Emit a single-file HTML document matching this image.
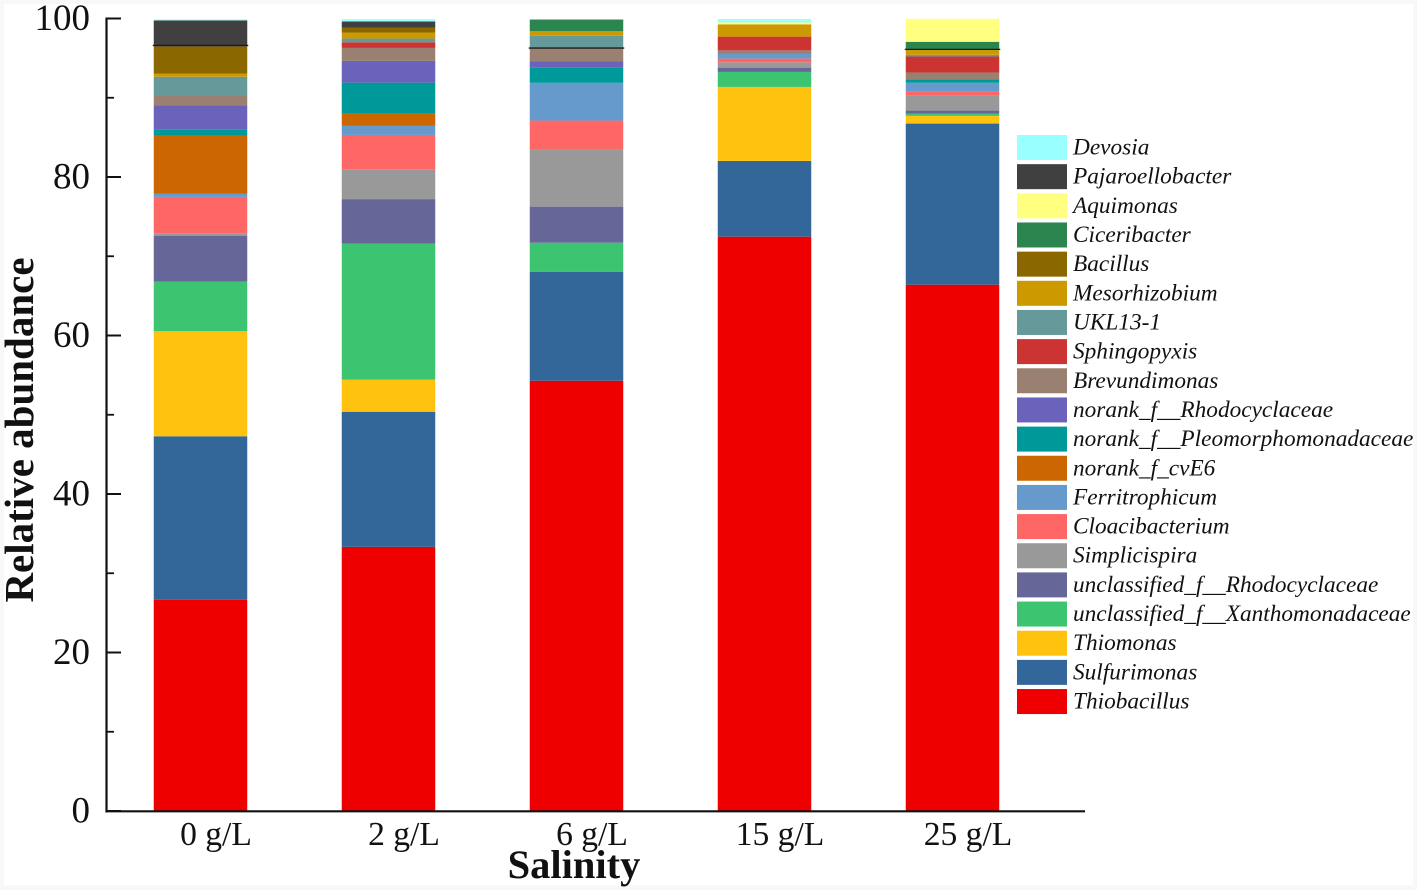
<!DOCTYPE html>
<html lang="en">
<head>
<meta charset="utf-8">
<title>Relative abundance by salinity</title>
<style>
html,body{margin:0;padding:0;width:1417px;height:890px;overflow:hidden;background:#f8f8f8;}
svg{display:block;}
text{font-family:"Liberation Serif",serif;fill:#111;}
</style>
</head>
<body>
<svg id="chart" width="1417" height="890" viewBox="0 0 1417 890" xmlns="http://www.w3.org/2000/svg">
<rect x="4" y="4" width="1409" height="881" fill="#fff"/>
<g id="bars"></g>
<g id="markers"></g>
<g id="axes"></g>
<g id="legend"></g>
<text x="574" y="878" text-anchor="middle" font-size="40.5" font-weight="bold">Salinity</text>
<text transform="translate(33,430) rotate(-90)" text-anchor="middle" font-size="41" font-weight="bold">Relative abundance</text>
</svg>
<script>
const categories = ["0 g/L", "2 g/L", "6 g/L", "15 g/L", "25 g/L"];
const yTickLabels = [0, 20, 40, 60, 80, 100];
const yMinorTicks = [10, 30, 50, 70, 90];

const thiobacillus = [26.64, 33.33, 54.29, 72.47, 66.41];
const sulfurimonas = [20.64, 17.05, 13.76, 9.56, 20.33];
const thiomonas = [13.26, 4.04, 0, 9.34, 0.97];
const unclassifiedXanthomonadaceae = [6.25, 17.17, 3.66, 1.89, 0.29];
const unclassifiedRhodocyclaceae = [5.81, 5.62, 4.55, 0.54, 0.38];
const simplicispira = [0.29, 3.76, 7.2, 0.67, 1.86];
const cloacibacterium = [4.6, 4.34, 3.66, 0.47, 0.51];
const ferritrophicum = [0.38, 1.14, 4.76, 0.59, 1.14];
const norankCvE6 = [7.36, 1.55, 0, 0, 0];
const norankPleomorphomonadaceae = [0.8, 3.91, 1.97, 0, 0.45];
const norankRhodocyclaceae = [3.0, 2.74, 0.72, 0.06, 0];
const brevundimonas = [1.26, 1.64, 1.64, 0.39, 0.85];
const sphingopyxis = [0, 0.71, 0, 1.73, 2.02];
const ukl131 = [2.36, 0.47, 1.6, 0, 0.21];
const mesorhizobium = [0.38, 0.76, 0.58, 1.55, 0.67];
const bacillus = [3.45, 0.63, 0, 0, 0];
const ciceribacter = [0, 0, 1.48, 0, 0.97];
const aquimonas = [0, 0, 0, 0.25, 2.9];
const pajaroellobacter = [3.28, 0.76, 0, 0, 0];
const devosia = [0.13, 0.3, 0, 0.43, 0];
const topMarkerValues = [96.6, null, 96.27, null, 96.1];

const seriesNames = ["Thiobacillus", "Sulfurimonas", "Thiomonas", "unclassified_f__Xanthomonadaceae", "unclassified_f__Rhodocyclaceae", "Simplicispira", "Cloacibacterium", "Ferritrophicum", "norank_f_cvE6", "norank_f__Pleomorphomonadaceae", "norank_f__Rhodocyclaceae", "Brevundimonas", "Sphingopyxis", "UKL13-1", "Mesorhizobium", "Bacillus", "Ciceribacter", "Aquimonas", "Pajaroellobacter", "Devosia"];
const seriesColors = ["#ee0000", "#336699", "#ffc20e", "#3cc470", "#666699", "#999999", "#ff6666", "#6699cc", "#cc6600", "#009999", "#6b63bb", "#998070", "#cc3333", "#669999", "#cc9900", "#8b6700", "#2a854e", "#ffff80", "#404040", "#99ffff"];
const seriesValues = [thiobacillus, sulfurimonas, thiomonas, unclassifiedXanthomonadaceae, unclassifiedRhodocyclaceae, simplicispira, cloacibacterium, ferritrophicum, norankCvE6, norankPleomorphomonadaceae, norankRhodocyclaceae, brevundimonas, sphingopyxis, ukl131, mesorhizobium, bacillus, ciceribacter, aquimonas, pajaroellobacter, devosia];

const NS = "http://www.w3.org/2000/svg";
const yScale = function (v) { return 811 - v * 7.925; };
const xCenter = function (i) { return 200.5 + i * 188; };
const barWidth = 93.5;

function make(tag, parent, attrs, content) {
  const el = document.createElementNS(NS, tag);
  Object.keys(attrs).forEach(function (k) { el.setAttribute(k, attrs[k]); });
  if (content !== undefined) el.textContent = content;
  parent.appendChild(el);
  return el;
}

const barsGroup = document.getElementById("bars");
categories.forEach(function (cat, c) {
  let cumulative = 0;
  seriesValues.forEach(function (vals, s) {
    const v = vals[c];
    if (v > 0) {
      const top = yScale(cumulative + v);
      const bottom = yScale(cumulative);
      const seg = make("rect", barsGroup, {
        x: xCenter(c) - barWidth / 2,
        y: top,
        width: barWidth,
        height: bottom - top,
        fill: seriesColors[s]
      });
      
      
      cumulative += v;
    }
  });
});

const markersGroup = document.getElementById("markers");
topMarkerValues.forEach(function (v, c) {
  if (v !== null) {
    const mark = make("line", markersGroup, {
      x1: xCenter(c) - barWidth / 2 - 1,
      x2: xCenter(c) + barWidth / 2 + 1,
      y1: yScale(v),
      y2: yScale(v),
      stroke: "#1a1a1a",
      "stroke-width": 1.3
    });
    
    
  }
});

const axesGroup = document.getElementById("axes");
const yAxisLine = make("line", axesGroup, { x1: 106.5, x2: 106.5, y1: yScale(100) - 1, y2: yScale(0) + 1.5, stroke: "#111", "stroke-width": 2.2 });


const xAxisLine = make("line", axesGroup, { x1: 105.5, x2: 1085, y1: yScale(0) + 0.3, y2: yScale(0) + 0.3, stroke: "#111", "stroke-width": 2.2 });



yTickLabels.forEach(function (t) {
  const tick = make("line", axesGroup, { x1: 106.5, x2: 121, y1: yScale(t), y2: yScale(t), stroke: "#111", "stroke-width": 2 });
  
  
  const label = make("text", axesGroup, { x: 90, y: yScale(t) + 11.5, "text-anchor": "end", "font-size": 37 }, String(t));
  
  
});
yMinorTicks.forEach(function (t) {
  const tick = make("line", axesGroup, { x1: 106.5, x2: 114, y1: yScale(t), y2: yScale(t), stroke: "#111", "stroke-width": 1.8 });
  
  
});
categories.forEach(function (cat, c) {
  const label = make("text", axesGroup, { x: xCenter(c) + 15.5, y: 845, "text-anchor": "middle", "font-size": 33.6 }, cat);
  
  
});

const legendGroup = document.getElementById("legend");
seriesNames.slice().reverse().forEach(function (name, i) {
  const s = seriesNames.length - 1 - i;
  const cy = 147.5 + i * 29.16;
  const swatch = make("rect", legendGroup, { x: 1017, y: cy - 12.5, width: 50, height: 25, fill: seriesColors[s] });
  
  
  const label = make("text", legendGroup, { x: 1073, y: cy + 7, "font-size": 23.3, "font-style": "italic" }, name);
  
  
});
</script>
</body>
</html>
